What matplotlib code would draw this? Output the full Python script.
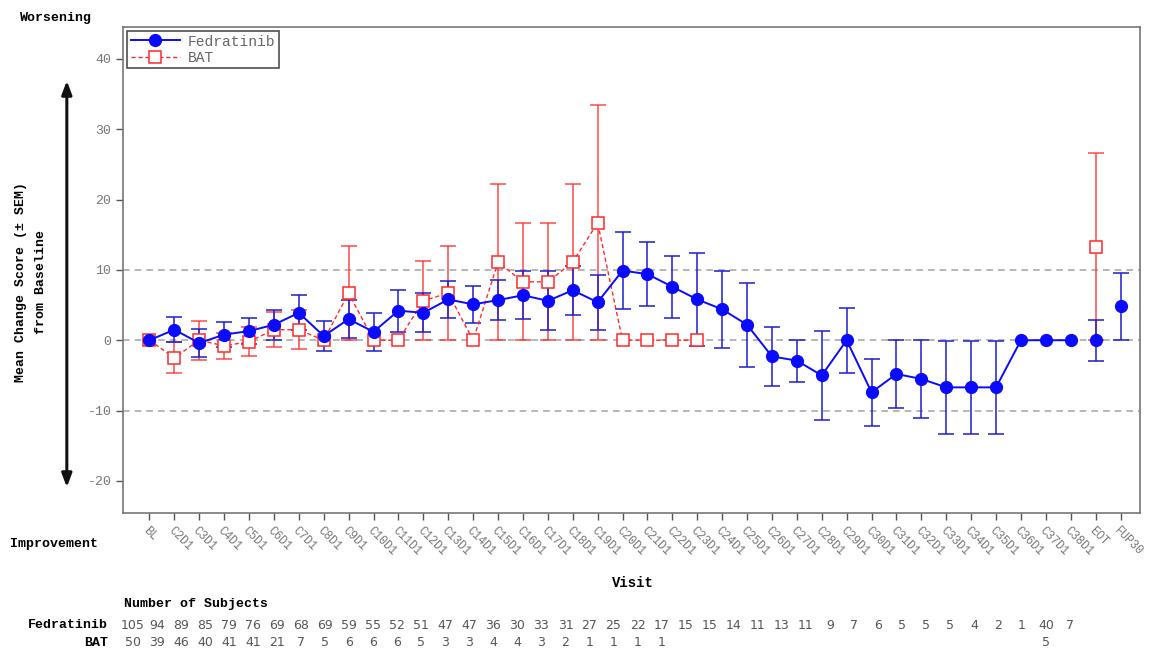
import numpy as np
import matplotlib
matplotlib.use("Agg")
import matplotlib.pyplot as plt
from matplotlib.patches import FancyArrowPatch

# Visits on the x axis
visits = ["BL", "C2D1", "C3D1", "C4D1", "C5D1", "C6D1", "C7D1", "C8D1", "C9D1",
          "C10D1", "C11D1", "C12D1", "C13D1", "C14D1", "C15D1", "C16D1", "C17D1",
          "C18D1", "C19D1", "C20D1", "C21D1", "C22D1", "C23D1", "C24D1", "C25D1",
          "C26D1", "C27D1", "C28D1", "C29D1", "C30D1", "C31D1", "C32D1", "C33D1",
          "C34D1", "C35D1", "C36D1", "C37D1", "C38D1", "EOT", "FUP30"]

# Fedratinib mean change and SEM
fed_mean = [0, 1.5, -0.4, 0.8, 1.3, 2.2, 3.9, 0.6, 3.0, 1.2, 4.2, 3.9, 5.8, 5.1,
            5.7, 6.4, 5.6, 7.1, 5.4, 9.9, 9.4, 7.6, 5.8, 4.4, 2.2, -2.3, -2.9,
            -5.0, 0, -7.4, -4.8, -5.5, -6.7, -6.7, -6.7, 0, 0, 0, 0, 4.8]
fed_sem = [0, 1.8, 2.0, 1.8, 1.8, 2.1, 2.5, 2.2, 2.7, 2.7, 3.0, 2.8, 2.6, 2.6,
           2.8, 3.4, 4.2, 3.5, 3.9, 5.5, 4.5, 4.4, 6.6, 5.5, 6.0, 4.2, 3.0,
           6.3, 4.6, 4.8, 4.8, 5.5, 6.6, 6.6, 6.6, 0, 0, 0, 2.9, 4.8]

# BAT mean change and SEM (no data after C23D1 except EOT)
nan = np.nan
bat_mean = [0, -2.5, 0, -0.8, -0.2, 1.5, 1.5, 0, 6.7, 0, 0, 5.6, 6.7, 0, 11.1,
            8.3, 8.3, 11.1, 16.7, 0, 0, 0, 0, nan, nan, nan, nan, nan, nan, nan,
            nan, nan, nan, nan, nan, nan, nan, nan, 13.3, nan]
bat_sem = [0, 2.2, 2.8, 1.8, 2.1, 2.5, 2.8, 0, 6.7, 0, 0, 5.6, 6.7, 0, 11.1,
           8.3, 8.3, 11.1, 16.7, 0, 0, 0, 0, nan, nan, nan, nan, nan, nan, nan,
           nan, nan, nan, nan, nan, nan, nan, nan, 13.3, nan]

# Number of subjects
fed_n = [105, 94, 89, 85, 79, 76, 69, 68, 69, 59, 55, 52, 51, 47, 47, 36, 30, 33,
         31, 27, 25, 22, 17, 15, 15, 14, 11, 13, 11, 9, 7, 6, 5, 5, 5, 4, 2, 1, 40, 7]
bat_n = [50, 39, 46, 40, 41, 41, 21, 7, 5, 6, 6, 6, 5, 3, 3, 4, 4, 3, 2, 1, 1, 1, 1,
         None, None, None, None, None, None, None, None, None, None, None, None,
         None, None, None, 5, None]

MONO = "Liberation Mono"
plt.rcParams["font.family"] = [MONO, "DejaVu Sans Mono"]
plt.rcParams["axes.unicode_minus"] = False

x = np.arange(len(visits))
fm = np.array(fed_mean, float)
fs = np.array(fed_sem, float)
bm = np.array(bat_mean, float)
bs = np.array(bat_sem, float)

fig = plt.figure(figsize=(11.52, 6.48), dpi=100)
ax = fig.add_axes([0.107, 0.209, 0.883, 0.749])

BLUE = "#0a0aff"
RED = "#ff2a2a"

# reference lines
for yv in (-10, 0, 10):
    ax.axhline(yv, color="#aaaaaa", ls=(0, (4, 3)), lw=1.2, zorder=0)

# BAT error bars (only where SEM > 0)
mb = np.isfinite(bm) & (np.nan_to_num(bs) > 0)
ax.errorbar(x[mb], bm[mb], yerr=bs[mb], fmt="none", ecolor=RED, elinewidth=1.1,
            capsize=6, capthick=1.1, alpha=0.85, zorder=2)
# Fedratinib error bars
mf = fs > 0
ax.errorbar(x[mf], fm[mf], yerr=fs[mf], fmt="none", ecolor="#2020d0", elinewidth=1.4,
            capsize=6, capthick=1.4, alpha=0.8, zorder=3)

# BAT line (connected up to C23D1), EOT alone
last_bat = 22
bat_line, = ax.plot(x[:last_bat + 1], bm[:last_bat + 1], ls=(0, (3, 2)), lw=1.0,
                    color=RED, marker="s", ms=8.5, mfc="white", mec=RED, mew=1.1,
                    label="BAT", zorder=4)
ax.plot(x[38:39], bm[38:39], ls="none", marker="s", ms=8.5, mfc="white", mec=RED,
        mew=1.1, zorder=4)

# Fedratinib line (connected up to C38D1), EOT and FUP30 alone
fed_line, = ax.plot(x[:38], fm[:38], ls="-", lw=1.4, color=BLUE, marker="o", ms=8.5,
                    label="Fedratinib", zorder=5)
ax.plot(x[38:], fm[38:], ls="none", marker="o", ms=8.5, color=BLUE, zorder=5)

ax.set_xlim(-1.05, 39.8)
ax.set_ylim(-24.5, 44.5)
ax.set_yticks([-20, -10, 0, 10, 20, 30, 40])
ax.set_xticks(x)
ax.set_xticklabels(visits, rotation=-45, ha="left", va="top",
                   rotation_mode="anchor", fontsize=8.5, color="#777777")
ax.tick_params(axis="y", labelsize=9.5, labelcolor="#777777", length=5, width=1,
               color="#555555", direction="out")
ax.tick_params(axis="x", length=5, width=1, color="#555555", direction="out", pad=4)
for s in ax.spines.values():
    s.set_color("#777777")
    s.set_linewidth(1.2)

leg = ax.legend(handles=[fed_line, bat_line], loc="upper left", fontsize=10.5,
                frameon=True, fancybox=False, edgecolor="#222222",
                borderpad=0.25, labelspacing=0.15, handlelength=3.4,
                handletextpad=0.5, borderaxespad=0.25)
leg.get_frame().set_linewidth(1.2)
for t in leg.get_texts():
    t.set_color("#666666")

# axis annotations
fig.text(0.017, 0.972, "Worsening", fontsize=9.5, fontweight="bold", ha="left", va="center")
fig.text(0.009, 0.161, "Improvement", fontsize=9.5, fontweight="bold", ha="left", va="center")
fig.text(0.549, 0.100, "Visit", fontsize=10, fontweight="bold", ha="center", va="center")
fig.text(0.027, 0.565, "Mean Change Score (\u00b1 SEM)\nfrom Baseline", fontsize=9.5,
         fontweight="bold", rotation=90, ha="center", va="center",
         multialignment="center", linespacing=1.9)
fig.add_artist(FancyArrowPatch(
    (0.058, 1 - 78 / 648), (0.058, 1 - 490 / 648), transform=fig.transFigure,
    arrowstyle="<|-|>,head_length=8,head_width=3", lw=2.2, color="#111111",
    mutation_scale=1))

# Number of subjects table
fig.text(0.108, 0.068, "Number of Subjects", fontsize=9.5, fontweight="bold",
         ha="left", va="center")
fig.text(0.094, 0.035, "Fedratinib", fontsize=9.5, fontweight="bold", ha="right", va="center")
fig.text(0.094, 0.008, "BAT", fontsize=9.5, fontweight="bold", ha="right", va="center")
x0, x1 = 133 / 1152, 1070 / 1152
for i, (a, b) in enumerate(zip(fed_n, bat_n)):
    xp = x0 + (x1 - x0) * i / (len(fed_n) - 1)
    fig.text(xp, 0.035, str(a), fontsize=9, color="#555555", ha="center", va="center",
             family="DejaVu Sans")
    if b is not None:
        fig.text(xp, 0.008, str(b), fontsize=9, color="#555555", ha="center",
                 va="center", family="DejaVu Sans")

fig.savefig("out.png", dpi=100)
